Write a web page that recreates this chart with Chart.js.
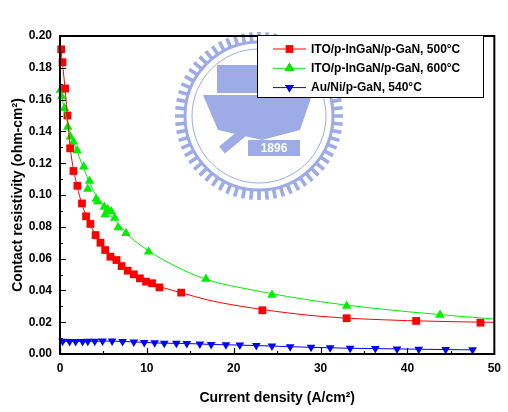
<!DOCTYPE html>
<html>
<head>
<meta charset="utf-8">
<script src="https://cdn.jsdelivr.net/npm/chart.js@4"></script>
<style>
html, body { margin: 0; padding: 0; background: #fff; }
</style>
</head>
<body>
<canvas id="myChart" width="508" height="412"></canvas>
<script>
// data
const labels = ['ITO/p-InGaN/p-GaN, 500\u00B0C', 'ITO/p-InGaN/p-GaN, 600\u00B0C', 'Au/Ni/p-GaN, 540\u00B0C'];

const redX = [0.14, 0.29, 0.6, 0.86, 1.17, 1.55, 2.0, 2.53, 3.0, 3.5, 4.1, 4.66, 5.2, 5.8, 6.5, 7.1, 7.8, 8.5, 9.2, 9.9, 10.6, 11.45, 13.95, 23.3, 33.0, 41.0, 48.4];
const redY = [0.1916, 0.1835, 0.167, 0.150, 0.1294, 0.1151, 0.1058, 0.0947, 0.0866, 0.0818, 0.0748, 0.0700, 0.0654, 0.0612, 0.0591, 0.0553, 0.0524, 0.0501, 0.0476, 0.0455, 0.0445, 0.0419, 0.0386, 0.0275, 0.0225, 0.0208, 0.0197];
const redFitX = [0.1, 0.6, 1.17, 2.0, 3.0, 4.1, 5.2, 6.5, 7.8, 9.2, 10.6, 12.0, 14.0, 17.0, 22.4, 30, 40, 50];
const redFitY = [0.192, 0.166, 0.130, 0.105, 0.087, 0.075, 0.066, 0.058, 0.052, 0.0476, 0.0443, 0.0415, 0.0385, 0.0340, 0.0287, 0.0237, 0.0210, 0.0199];

const greenX = [0.06, 0.2, 0.52, 0.9, 1.2, 1.55, 1.98, 2.74, 3.4, 3.2, 4.17, 4.35, 5.1, 5.5, 5.2, 5.9, 6.3, 6.7, 7.6, 10.2, 16.8, 24.4, 33.0, 43.75];
const greenY = [0.166, 0.162, 0.1545, 0.1428, 0.1367, 0.1335, 0.128, 0.1178, 0.1088, 0.1038, 0.0975, 0.0959, 0.0925, 0.0909, 0.0877, 0.0896, 0.0855, 0.0796, 0.0759, 0.0643, 0.0472, 0.0371, 0.0302, 0.0245];
const greenFitX = [0.05, 0.5, 1, 2, 3, 4, 5, 6, 7, 8, 10.2, 13, 16.8, 22.4, 30, 40, 50];
const greenFitY = [0.167, 0.154, 0.142, 0.127, 0.113, 0.101, 0.093, 0.086, 0.080, 0.074, 0.065, 0.056, 0.047, 0.040, 0.0329, 0.0266, 0.022];

const blueX = [0.3, 1.1, 1.8, 2.6, 3.2, 4.0, 4.9, 6.0, 7.2, 8.5, 9.7, 10.9, 12.0, 13.4, 14.6, 16.1, 17.4, 19.1, 20.7, 22.6, 24.4, 26.5, 28.9, 31.1, 33.4, 36.3, 38.8, 41.3, 44.4, 47.5];
const blueY = [0.0080, 0.0079, 0.0079, 0.0079, 0.0080, 0.0080, 0.0081, 0.0081, 0.0079, 0.0076, 0.0073, 0.0070, 0.0068, 0.0067, 0.0066, 0.0063, 0.0060, 0.0058, 0.0056, 0.0053, 0.0050, 0.0046, 0.0042, 0.0039, 0.0036, 0.0034, 0.0032, 0.0030, 0.0028, 0.0026];

const xTicks = [0, 10, 20, 30, 40, 50];
const yTicks = [0, 0.02, 0.04, 0.06, 0.08, 0.10, 0.12, 0.14, 0.16, 0.18, 0.20];

const RED = '#ff0000', GREEN = '#00ee00', BLUE = '#0000ff';
const FONT = "'Liberation Sans', Arial, sans-serif";
const SEAL = '#9dabe6';

function pts(xs, ys) {
    return xs.map((x, i) => ({ x: x, y: ys[i] }));
}

// faint seal watermark behind the plot
const seal = {
    id: 'seal',
    beforeDatasetsDraw(chart) {
        const ctx = chart.ctx;
        const cx = 259, cy = 116;
        ctx.save();
        ctx.strokeStyle = SEAL;
        ctx.fillStyle = SEAL;
        ctx.lineWidth = 3.6;
        ctx.beginPath();
        for (let i = 0; i < 64; i++) {
            const t = i / 64 * Math.PI * 2;
            ctx.moveTo(cx + Math.cos(t) * 73, cy + Math.sin(t) * 73);
            ctx.lineTo(cx + Math.cos(t) * 84, cy + Math.sin(t) * 84);
        }
        ctx.stroke();
        ctx.lineWidth = 3;
        ctx.beginPath();
        ctx.arc(cx, cy, 74, 0, Math.PI * 2);
        ctx.stroke();
        ctx.lineWidth = 1;
        ctx.beginPath();
        ctx.arc(cx, cy, 67, 0, Math.PI * 2);
        ctx.stroke();
        // building
        ctx.fillRect(217, 65, 44, 28);
        // lower body
        ctx.beginPath();
        ctx.moveTo(203, 95);
        ctx.lineTo(312, 95);
        ctx.lineTo(300, 130);
        ctx.lineTo(262, 140);
        ctx.lineTo(218, 130);
        ctx.closePath();
        ctx.fill();
        // diagonal bar
        ctx.lineWidth = 9;
        ctx.beginPath();
        ctx.moveTo(222, 150);
        ctx.lineTo(292, 92);
        ctx.stroke();
        // banner
        ctx.fillRect(248, 140, 52, 16);
        ctx.fillStyle = '#fff';
        ctx.font = 'bold 12px ' + FONT;
        ctx.textAlign = 'center';
        ctx.textBaseline = 'middle';
        ctx.fillText('1896', 274, 148.5);
        ctx.restore();
    }
};

// inner ticks + frame
const frame = {
    id: 'frame',
    afterDatasetsDraw(chart) {
        const { ctx, chartArea: a, scales } = chart;
        ctx.save();
        ctx.strokeStyle = '#000';
        ctx.lineWidth = 2;
        ctx.strokeRect(a.left, a.top, a.right - a.left, a.bottom - a.top);
        ctx.lineWidth = 1.2;
        ctx.beginPath();
        for (let v = 0; v <= 50; v += 5) {
            const px = Math.round(scales.x.getPixelForValue(v)) + 0.5;
            const len = v % 10 === 0 ? 6 : 3;
            ctx.moveTo(px, a.bottom);
            ctx.lineTo(px, a.bottom - len);
        }
        for (let i = 0; i <= 20; i++) {
            const py = Math.round(scales.y.getPixelForValue(i / 100)) + 0.5;
            const len = i % 2 === 0 ? 6 : 3;
            ctx.moveTo(a.left, py);
            ctx.lineTo(a.left + len, py);
        }
        ctx.stroke();
        ctx.restore();
    }
};

// boxed legend like the original (line with marker)
const boxLegend = {
    id: 'boxLegend',
    afterDraw(chart) {
        const ctx = chart.ctx;
        const sets = chart.data.datasets.filter(d => d.inLegend);
        ctx.save();
        ctx.fillStyle = '#fff';
        ctx.fillRect(257, 35, 226, 62);
        ctx.strokeStyle = '#000';
        ctx.lineWidth = 1;
        ctx.strokeRect(257.5, 35.5, 226, 62);
        sets.forEach((d, i) => {
            const y = 49 + i * 19.3;
            ctx.strokeStyle = d.borderColor;
            ctx.lineWidth = 1;
            ctx.beginPath();
            ctx.moveTo(273, y);
            ctx.lineTo(306, y);
            ctx.stroke();
            Chart.helpers.drawPoint(ctx, {
                pointStyle: d.pointStyle, rotation: d.rotation || 0,
                radius: d.pointRadius, borderWidth: 0
            }, 289.5, y);
            ctx.fillStyle = d.backgroundColor;
            ctx.fill();
            ctx.fillStyle = '#000';
            ctx.font = 'bold 12px ' + FONT;
            ctx.textBaseline = 'middle';
            ctx.fillText(d.label, 311, y + 0.5);
        });
        ctx.restore();
    }
};

const ctx = document.getElementById('myChart').getContext('2d');
const myChart = new Chart(ctx, {
    type: 'scatter',
    data: {
        datasets: [
            { label: 'red fit', data: pts(redFitX, redFitY), showLine: true, pointRadius: 0, borderColor: RED, borderWidth: 1, cubicInterpolationMode: 'monotone' },
            { label: 'green fit', data: pts(greenFitX, greenFitY), showLine: true, pointRadius: 0, borderColor: GREEN, borderWidth: 1, cubicInterpolationMode: 'monotone' },
            { label: 'blue line', data: pts(blueX, blueY), showLine: true, pointRadius: 0, borderColor: BLUE, borderWidth: 1 },
            { label: labels[0], inLegend: true, data: pts(redX, redY), pointStyle: 'rect', pointRadius: 5.5, backgroundColor: RED, borderColor: RED, borderWidth: 0, clip: false },
            { label: labels[1], inLegend: true, data: pts(greenX, greenY), pointStyle: 'triangle', pointRadius: 5.5, backgroundColor: GREEN, borderColor: GREEN, borderWidth: 0, clip: false },
            { label: labels[2], inLegend: true, data: pts(blueX, blueY), pointStyle: 'triangle', rotation: 180, pointRadius: 5, backgroundColor: BLUE, borderColor: BLUE, borderWidth: 0, clip: false }
        ]
    },
    options: {
        responsive: false,
        animation: false,
        devicePixelRatio: 1,
        layout: { padding: { top: 36, right: 13, left: 0, bottom: 0 } },
        plugins: {
            legend: { display: false },
            tooltip: { enabled: false }
        },
        scales: {
            x: {
                type: 'linear', min: 0, max: 50,
                afterFit: s => { s.height = 58; },
                afterBuildTicks: s => { s.ticks = xTicks.map(v => ({ value: v })); },
                grid: { display: false, drawTicks: false },
                border: { display: false },
                ticks: { color: '#000', padding: 7, font: { family: FONT, size: 12, weight: 'bold' } },
                title: { display: true, text: 'Current density (A/cm\u00B2)', color: '#000', padding: { top: 0, bottom: 5 }, font: { family: FONT, size: 14, weight: 'bold' } }
            },
            y: {
                type: 'linear', min: 0, max: 0.2,
                afterFit: s => { s.width = 60; },
                afterBuildTicks: s => { s.ticks = yTicks.map(v => ({ value: v })); },
                grid: { display: false, drawTicks: false },
                border: { display: false },
                ticks: { color: '#000', padding: 8, font: { family: FONT, size: 12, weight: 'bold' }, callback: v => v.toFixed(2) },
                title: { display: true, text: 'Contact resistivity (ohm-cm\u00B2)', color: '#000', padding: { top: 10, bottom: 0 }, font: { family: FONT, size: 14, weight: 'bold' } }
            }
        }
    },
    plugins: [seal, frame, boxLegend]
});
</script>
</body>
</html>
